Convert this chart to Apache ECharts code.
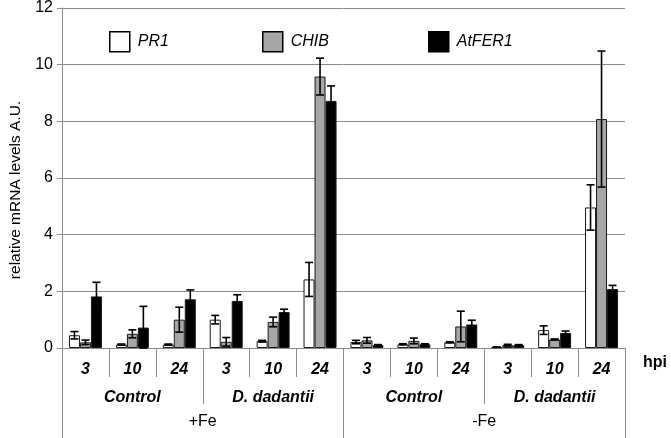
<!DOCTYPE html>
<html>
<head>
<meta charset="utf-8">
<script src="https://cdn.jsdelivr.net/npm/echarts@6/dist/echarts.min.js"></script>
<style>html,body{margin:0;padding:0;background:#fff;}#c{width:671px;height:438px;}</style>
</head>
<body>
<div id="c"></div>
<script>
var hpiLabels = ['3', '10', '24', '3', '10', '24', '3', '10', '24', '3', '10', '24'];
var treatmentLabels = ['Control', 'D. dadantii', 'Control', 'D. dadantii'];
var ironLabels = ['+Fe', '-Fe'];
var seriesNames = ['PR1', 'CHIB', 'AtFER1'];
var pr1 = [0.45, 0.12, 0.12, 1.0, 0.24, 2.42, 0.21, 0.13, 0.2, 0.03, 0.63, 4.96];
var pr1Err = [0.13, 0.02, 0.02, 0.15, 0.03, 0.6, 0.06, 0.02, 0.02, 0.01, 0.15, 0.8];
var chib = [0.2, 0.5, 1.0, 0.22, 0.92, 9.58, 0.27, 0.25, 0.76, 0.1, 0.3, 8.08];
var chibErr = [0.08, 0.14, 0.44, 0.15, 0.17, 0.65, 0.1, 0.1, 0.54, 0.03, 0.02, 2.4];
var fer = [1.82, 0.72, 1.72, 1.66, 1.27, 8.72, 0.1, 0.13, 0.83, 0.1, 0.53, 2.08];
var ferErr = [0.5, 0.75, 0.33, 0.22, 0.1, 0.53, 0.02, 0.02, 0.15, 0.02, 0.07, 0.13];
var yTicks = { min: 0, max: 12, interval: 2 };

var FONT = 'Liberation Sans, Arial, sans-serif';
var GRAY = '#8a8a8a';
var colors = ['#ffffff', '#a6a6a6', '#000000'];
var values = [pr1, chib, fer];
var errors = [pr1Err, chibErr, ferErr];
var BAR_W = 11;

var chart = echarts.init(document.getElementById('c'), null, { renderer: 'canvas' });

var series = [];
seriesNames.forEach(function (name, k) {
  series.push({
    name: name,
    type: 'bar',
    xAxisIndex: 0,
    data: values[k],
    barWidth: BAR_W,
    barGap: '0%',
    itemStyle: { color: colors[k], borderColor: '#1a1a1a', borderWidth: 1 },
    z: 2
  });
});
seriesNames.forEach(function (name, k) {
  var offset = (k - 1) * BAR_W;
  series.push({
    name: name + ' err',
    type: 'custom',
    xAxisIndex: 0,
    z: 5,
    silent: true,
    encode: { x: 0, y: 1 },
    data: values[k].map(function (v, i) { return [i, v, errors[k][i]]; }),
    renderItem: function (params, api) {
      var i = api.value(0), v = api.value(1), e = api.value(2);
      var top = api.coord([i, v + e]);
      var bot = api.coord([i, Math.max(0, v - e)]);
      var x = top[0] + offset;
      var cap = 4;
      var st = { stroke: '#000', lineWidth: 1.6 };
      return {
        type: 'group',
        children: [
          { type: 'line', shape: { x1: x, y1: top[1], x2: x, y2: bot[1] }, style: st },
          { type: 'line', shape: { x1: x - cap, y1: top[1], x2: x + cap, y2: top[1] }, style: st },
          { type: 'line', shape: { x1: x - cap, y1: bot[1], x2: x + cap, y2: bot[1] }, style: st }
        ]
      };
    }
  });
});

function legendAt(name, left) {
  return {
    data: [{ name: name, icon: 'rect' }],
    left: left,
    top: 26,
    itemWidth: 20,
    itemHeight: 20,
    selectedMode: false,
    itemStyle: { borderColor: '#000', borderWidth: 1.5 },
    textStyle: { fontFamily: FONT, fontSize: 16, fontStyle: 'italic', color: '#000', padding: [0, 0, 0, 3] }
  };
}

var option = {
  animation: false,
  backgroundColor: '#fff',
  legend: [legendAt('PR1', 104), legendAt('CHIB', 257), legendAt('AtFER1', 423)],
  grid: { left: 57, right: 46, top: 8, bottom: 90, containLabel: false },
  xAxis: [
    {
      type: 'category',
      data: hpiLabels,
      position: 'bottom',
      axisLine: { show: true, lineStyle: { color: GRAY, width: 1 } },
      axisTick: { show: true, length: 29, lineStyle: { color: GRAY } },
      axisLabel: { interval: 0, margin: 14, fontFamily: FONT, fontSize: 16, fontWeight: 'bold', fontStyle: 'italic', color: '#000' }
    },
    {
      type: 'category',
      data: treatmentLabels,
      position: 'bottom',
      offset: 29,
      axisLine: { show: false },
      axisTick: { show: true, length: 27, lineStyle: { color: GRAY } },
      axisLabel: { interval: 0, margin: 13, fontFamily: FONT, fontSize: 16, fontWeight: 'bold', fontStyle: 'italic', color: '#000' }
    },
    {
      type: 'category',
      data: ironLabels,
      position: 'bottom',
      offset: 56,
      axisLine: { show: false },
      axisTick: { show: true, length: 34, lineStyle: { color: GRAY } },
      axisLabel: { interval: 0, margin: 10, fontFamily: FONT, fontSize: 16, color: '#000' }
    }
  ],
  yAxis: {
    type: 'value',
    min: yTicks.min,
    max: yTicks.max,
    interval: yTicks.interval,
    name: 'relative mRNA levels A.U.',
    nameLocation: 'middle',
    nameGap: 38,
    nameTextStyle: { fontFamily: FONT, fontSize: 15.5, color: '#000', padding: [0, 24, 0, 0] },
    axisLine: { show: true, lineStyle: { color: GRAY } },
    axisTick: { show: true, length: 5, lineStyle: { color: GRAY } },
    axisLabel: { margin: 9, fontFamily: FONT, fontSize: 16, color: '#000' },
    splitLine: { show: true, lineStyle: { color: GRAY, width: 1 } }
  },
  graphic: [
    { type: 'text', left: 643, top: 355, style: { text: 'hpi', font: 'bold 16px ' + FONT, fill: '#000' } }
  ],
  series: series
};
chart.setOption(option);
</script>
</body>
</html>
